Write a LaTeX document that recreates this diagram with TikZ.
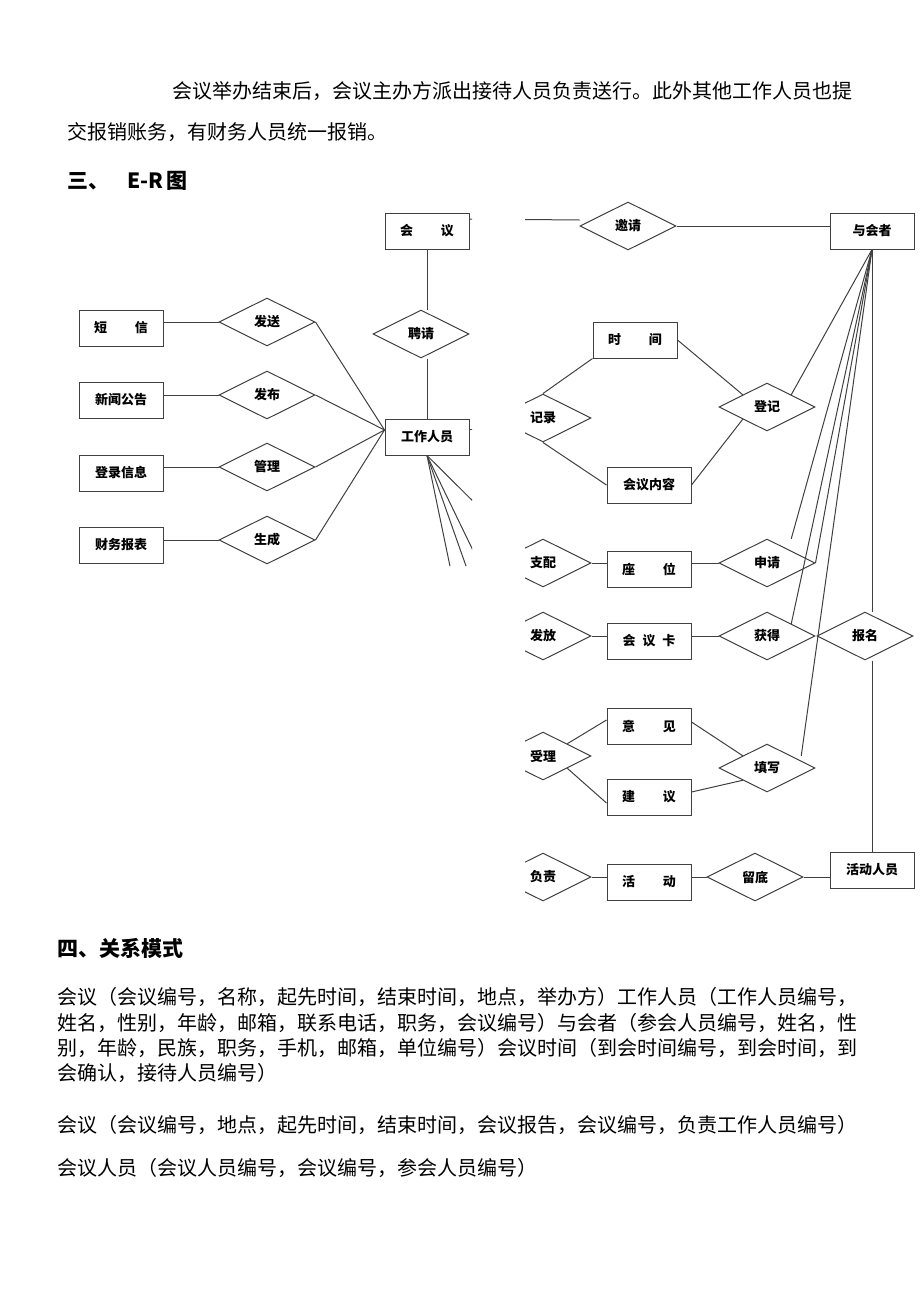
\documentclass[tikz,border=0pt]{standalone}
\usepackage{fontspec}
\setmainfont{Noto Sans CJK SC}
\usetikzlibrary{shapes.geometric}

\newcommand{\wsp}{\hspace{28pt}}
\tikzset{
	ent/.style={draw=black!75, line width=1pt, minimum width=84pt, minimum height=36pt, inner sep=0pt, font=\bfseries\fontsize{13}{13}\selectfont},
	rel/.style={draw=black!75, line width=1pt, diamond, minimum width=96pt, minimum height=48pt, inner sep=0pt, font=\bfseries\fontsize{13}{13}\selectfont},
	conn/.style={draw=black!75, line width=1pt},
	txt/.style={anchor=west, inner sep=0pt, font=\fontsize{20}{20}\selectfont},
	head/.style={anchor=west, inner sep=0pt, font=\bfseries\fontsize{21}{21}\selectfont}
}

\begin{document}
\begin{tikzpicture}[x=1pt, y=-1pt]
	%\draw[help lines] (0,0) grid[step=50] (920,1301);
	\useasboundingbox (0,0) rectangle (920,1301);
	\node[txt] (p1) at (172,91) {会议举办结束后，会议主办方派出接待人员负责送行。此外其他工作人员也提};
	\node[txt] (p2) at (67,132) {交报销账务，有财务人员统一报销。};
	\node[head] (h3) at (67,181) {三、\hspace{18pt}E-R\,图};
	\begin{scope}
	\clip (0,195) rectangle (472,566) (525,195) rectangle (920,910);
	% left part
	\node[ent] (meeting) at (427,231) {会\wsp 议};
	\node[rel] (hire) at (421,334) {聘请};
	\node[ent] (staff) at (427,437) {工作人员};
	\node[ent] (sms) at (121,328) {短\wsp 信};
	\node[ent] (news) at (121,400) {新闻公告};
	\node[ent] (login) at (121,473) {登录信息};
	\node[ent] (report) at (121,545) {财务报表};
	\node[rel] (send) at (267,322) {发送};
	\node[rel] (publish) at (267,395) {发布};
	\node[rel] (manage) at (267,467) {管理};
	\node[rel] (generate) at (267,540) {生成};
	\coordinate (sw) at ([yshift=7pt]staff.west);
	\draw[conn] (meeting.south) -- (meeting.south |- hire.north);
	\draw[conn] (hire.south -| staff.north) -- (staff.north);
	\draw[conn] (send.west -| sms.east) -- (send.west);
	\draw[conn] (publish.west -| news.east) -- (publish.west);
	\draw[conn] (manage.west -| login.east) -- (manage.west);
	\draw[conn] (generate.west -| report.east) -- (generate.west);
	\draw[conn] (send.east) -- (sw);
	\draw[conn] (publish.east) -- (sw);
	\draw[conn] (manage.east) -- (sw);
	\draw[conn] (generate.east) -- (sw);
	\coordinate (f1) at (500,528);
	\coordinate (f2) at (497,600);
	\coordinate (f3) at (478,600);
	\coordinate (f4) at (457,600);
	\coordinate (stub) at (500,429);
	\draw[conn] (staff.south) -- (f1);
	\draw[conn] (staff.south) -- (f2);
	\draw[conn] (staff.south) -- (f3);
	\draw[conn] (staff.south) -- (f4);
	\draw[conn] ([yshift=8pt]staff.east) -- (stub);
	% right part
	\node[rel] (invite) at (628,226) {邀请};
	\node[ent] (attendee) at (872,231) {与会者};
	\node[ent] (time) at (635,340) {时\wsp 间};
	\node[rel] (record) at (543,418) {记录};
	\node[ent] (content) at (649,485) {会议内容};
	\node[rel] (register) at (767,407) {登记};
	\node[rel] (assign) at (543,563) {支配};
	\node[ent] (seat) at (649,569) {座\wsp 位};
	\node[rel] (apply) at (767,563) {申请};
	\node[rel] (issue) at (543,636) {发放};
	\node[ent] (card) at (649,641) {会\hspace{7pt}议\hspace{7pt}卡};
	\node[rel] (obtain) at (767,636) {获得};
	\node[rel] (signup) at (865,636) {报名};
	\node[ent] (opinion) at (649,726) {意\wsp 见};
	\node[rel] (accept) at (543,756) {受理};
	\node[ent] (suggest) at (649,797) {建\wsp 议};
	\node[rel] (fill) at (767,768) {填写};
	\node[rel] (charge) at (543,877) {负责};
	\node[ent] (activity) at (649,882) {活\wsp 动};
	\node[rel] (keep) at (755,877) {留底};
	\node[ent] (actor) at (872,870) {活动人员};
	\coordinate (as) at (attendee.south);
	\draw[conn] ([yshift=12pt]meeting.east) -- ([yshift=6pt]invite.west);
	\draw[conn] (invite.east) -- (invite.east -| attendee.west);
	\draw[conn] (as) -- (register.north east);
	\draw[conn] (as) -- ([yshift=12pt]apply.north east);
	\draw[conn] (as) -- (apply.east);
	\draw[conn] (as) -- (obtain.north east);
	\draw[conn] (as) -- ([xshift=10pt]fill.north east);
	\draw[conn] (as) -- (as |- signup.north);
	\draw[conn] (as |- signup.south) -- (actor.north);
	\draw[conn] (record.north) -- (time.south west);
	\draw[conn] (record.south) -- (content.west);
	\draw[conn] (time.east) -- (register.north west);
	\draw[conn] (content.east) -- (register.south west);
	\draw[conn] (assign.east) -- (assign.east -| seat.west);
	\draw[conn] (apply.west -| seat.east) -- (apply.west);
	\draw[conn] (issue.east) -- (issue.east -| card.west);
	\draw[conn] (obtain.west -| card.east) -- (obtain.west);
	\draw[conn] (accept.north east) -- ([yshift=6pt]opinion.west);
	\draw[conn] (accept.south east) -- ([yshift=-6pt]suggest.west);
	\draw[conn] ([yshift=4pt]opinion.east) -- (fill.north west);
	\draw[conn] ([yshift=5pt]suggest.east) -- (fill.south west);
	\draw[conn] (charge.east) -- (charge.east -| activity.west);
	\draw[conn] (keep.west -| activity.east) -- (keep.west);
	\draw[conn] (keep.east) -- (keep.east -| actor.west);
	\end{scope}
	\node[head] (h4) at (57,948) {四、关系模式};
	\node[txt] (r1) at (57,997) {会议（会议编号，名称，起先时间，结束时间，地点，举办方）工作人员（工作人员编号，};
	\node[txt] (r2) at (57,1023) {姓名，性别，年龄，邮箱，联系电话，职务，会议编号）与会者（参会人员编号，姓名，性};
	\node[txt] (r3) at (57,1048) {别，年龄，民族，职务，手机，邮箱，单位编号）会议时间（到会时间编号，到会时间，到};
	\node[txt] (r4) at (57,1073) {会确认，接待人员编号）};
	\node[txt] (r5) at (57,1125) {会议（会议编号，地点，起先时间，结束时间，会议报告，会议编号，负责工作人员编号）};
	\node[txt] (r6) at (57,1168) {会议人员（会议人员编号，会议编号，参会人员编号）};
\end{tikzpicture}
\end{document}
